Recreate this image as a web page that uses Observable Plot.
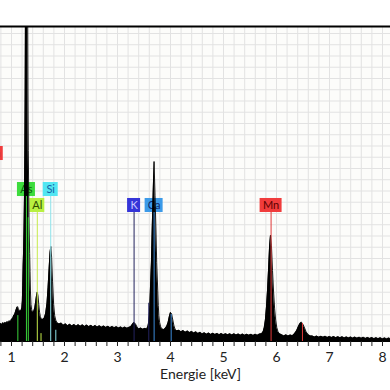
<!DOCTYPE html>
<html>
<head>
<meta charset="utf-8">
<script src="https://cdn.jsdelivr.net/npm/d3@7"></script>
<script src="https://cdn.jsdelivr.net/npm/@observablehq/plot@0.6"></script>
<style>
  html, body { margin: 0; padding: 0; background: #ffffff; }
  #chart { width: 390px; height: 390px; overflow: hidden; }
</style>
</head>
<body>
<div id="chart"></div>
<script>
// EDX spectrum: [energy keV, counts (arbitrary units)]
const spectrum = [
  [0.78,1.45],[0.80,1.62],[0.82,1.48],[0.84,1.68],[0.86,1.52],[0.88,1.72],[0.90,1.58],[0.92,1.78],
  [0.94,1.64],[0.96,1.85],[0.98,1.74],[1.00,1.98],[1.02,2.02],[1.04,2.28],[1.06,2.4],[1.08,2.72],
  [1.10,3.0],[1.115,3.1],[1.13,2.92],[1.15,2.72],[1.17,2.7],[1.185,2.82],
  [1.195,3.0],[1.205,3.6],[1.212,5.0],[1.220,6.8],[1.228,8.0],[1.236,10],[1.245,13],[1.252,17],
  [1.258,22],[1.264,30],[1.285,52],[1.305,30],[1.311,22],[1.317,17],[1.325,13],[1.334,10],
  [1.343,7.8],[1.350,6.2],[1.358,4.4],[1.368,3.3],[1.38,2.85],[1.395,2.65],[1.41,2.58],[1.425,2.75],
  [1.44,3.0],[1.455,3.5],[1.47,4.0],[1.487,4.4],[1.50,4.05],[1.515,3.3],[1.53,2.6],[1.545,2.2],
  [1.56,2.05],[1.58,1.95],[1.60,2.0],
  [1.62,2.1],[1.645,2.5],[1.67,3.4],[1.69,4.8],[1.71,6.5],[1.727,7.9],[1.742,8.45],[1.757,7.5],
  [1.775,5.3],[1.795,3.3],[1.815,2.3],[1.835,1.9],[1.855,1.7],[1.875,1.62],
  [1.90,1.55],[1.94,1.64],[1.98,1.45],[2.02,1.57],[2.06,1.4],[2.10,1.54],[2.14,1.38],[2.18,1.52],
  [2.22,1.36],[2.26,1.5],[2.30,1.35],[2.34,1.48],[2.38,1.33],[2.42,1.46],[2.46,1.32],[2.50,1.44],
  [2.54,1.3],[2.58,1.42],[2.62,1.28],[2.66,1.4],[2.70,1.27],[2.74,1.38],[2.78,1.25],[2.82,1.36],
  [2.86,1.23],[2.90,1.34],[2.94,1.22],[2.98,1.32],[3.02,1.2],[3.06,1.3],[3.10,1.18],[3.14,1.28],
  [3.18,1.17],[3.22,1.26],
  [3.25,1.32],[3.28,1.52],[3.31,1.7],[3.34,1.55],[3.37,1.28],[3.40,1.12],[3.44,1.2],[3.48,1.08],
  [3.52,1.18],[3.55,1.1],
  [3.575,1.35],[3.59,1.75],[3.60,2.3],[3.61,3.2],[3.62,4.5],[3.64,7],[3.655,10],[3.672,13],
  [3.69,16.0],[3.708,13],[3.725,10],[3.74,7],[3.76,4.5],[3.77,3.2],[3.78,2.3],[3.795,1.7],
  [3.815,1.3],[3.84,1.12],[3.87,1.05],[3.90,1.15],
  [3.93,1.35],[3.955,1.7],[3.98,2.25],[4.00,2.58],[4.02,2.48],[4.04,2.0],[4.065,1.4],[4.09,1.05],
  [4.12,0.95],
  [4.16,1.0],[4.20,0.86],[4.24,0.97],[4.28,0.82],[4.32,0.94],[4.36,0.79],[4.40,0.9],[4.44,0.75],
  [4.48,0.86],[4.52,0.71],[4.56,0.82],[4.60,0.67],[4.64,0.78],[4.68,0.65],[4.72,0.76],[4.76,0.63],
  [4.80,0.74],[4.84,0.62],[4.88,0.72],[4.92,0.61],[4.96,0.71],[5.00,0.59],[5.04,0.7],[5.08,0.59],
  [5.12,0.69],[5.16,0.57],[5.20,0.68],[5.24,0.57],[5.28,0.67],[5.32,0.56],[5.36,0.66],[5.40,0.55],
  [5.44,0.65],[5.48,0.55],[5.52,0.65],[5.56,0.54],[5.60,0.64],[5.64,0.55],[5.68,0.66],[5.72,0.7],
  [5.75,0.9],[5.77,1.25],[5.79,1.9],[5.81,3.0],[5.83,4.5],[5.85,6.4],[5.87,8.5],[5.887,9.45],
  [5.905,8.5],[5.925,6.3],[5.945,4.4],[5.965,2.9],[5.985,1.9],[6.005,1.25],[6.03,0.85],[6.06,0.68],
  [6.10,0.6],[6.14,0.49],[6.18,0.59],[6.22,0.48],[6.26,0.58],[6.30,0.52],
  [6.34,0.7],[6.38,0.95],[6.41,1.3],[6.44,1.58],[6.47,1.72],[6.50,1.52],[6.53,1.2],[6.56,0.85],
  [6.60,0.6],[6.64,0.5],
  [6.68,0.48],[6.72,0.39],[6.76,0.48],[6.80,0.38],[6.84,0.47],[6.88,0.37],[6.92,0.46],[6.96,0.36],
  [7.00,0.45],[7.04,0.35],[7.08,0.44],[7.12,0.34],[7.16,0.43],[7.20,0.33],[7.24,0.42],[7.28,0.32],
  [7.32,0.41],[7.36,0.31],[7.40,0.4],[7.44,0.3],[7.48,0.39],[7.52,0.29],[7.56,0.38],[7.60,0.28],
  [7.64,0.37],[7.68,0.27],[7.72,0.36],[7.76,0.26],[7.80,0.35],[7.84,0.25],[7.88,0.34],[7.92,0.24],
  [7.96,0.33],[8.00,0.23],[8.04,0.32],[8.08,0.22],[8.12,0.31],[8.16,0.21]
];

// Element markers (main lines with label boxes)
const elements = ["Mn", "As", "Si", "Al", "K", "Ca", "Mn"];
const elementEnergy = [0.637, 1.282, 1.740, 1.487, 3.313, 3.691, 5.898];
const elementRow = [0, 1, 1, 2, 2, 2, 2];

// Secondary lines: element, energy, relative height
const minorElement = ["As", "As", "Al", "Si", "K", "Ca", "Mn"];
const minorEnergy = [1.120, 1.317, 1.557, 1.836, 3.590, 4.013, 6.490];
const minorHeight = [2.3, 11, 0.7, 1.0, 3.4, 2.4, 1.6];

const majorTicks = [1, 2, 3, 4, 5, 6, 7, 8];

// ---- styles / layout ----
const boxFill = {As: "#3ddc3d", Si: "#52e6f2", Al: "#b8f040", K: "#3535d8", Ca: "#3c9ae8", Mn: "#f03c3c"};
const boxText = {As: "#0d5a0d", Si: "#1560a8", Al: "#2e4a00", K: "#c8c8ff", Ca: "#0c2a70", Mn: "#5a0000"};
const lineColor = {As: "#3ad33a", Si: "#8fe3ea", Al: "#c6ea4a", K: "#23235e", Ca: "#3c8bd9", Mn: "#e03a3a"};
const boxWidth = {As: 18, Si: 15, Al: 15, K: 13, Ca: 18, Mn: 22};
const rowLevel = [16.71, 13.51, 12.09];
const boxHalf = 7;          // px
const unitPx = 11.25;       // px per y unit

const labels = elements.map((el, i) => ({el, e: elementEnergy[i], lvl: rowLevel[elementRow[i]]}));
const minors = minorElement.map((el, i) => ({el, e: minorEnergy[i], h: minorHeight[i]}));
const pts = spectrum.map(([e, c]) => ({e, c}));

const boxMarks = labels.map(d => Plot.rect([d], {
  x1: "e", x2: "e", y1: "lvl", y2: "lvl",
  insetLeft: -boxWidth[d.el] / 2, insetRight: -boxWidth[d.el] / 2,
  insetTop: -boxHalf, insetBottom: -boxHalf,
  fill: boxFill[d.el]
}));

const chart = Plot.plot({
  width: 390,
  height: 390,
  marginTop: 26,
  marginBottom: 49,
  marginLeft: 0,
  marginRight: 0,
  style: {fontFamily: "Lato, 'Open Sans', sans-serif", background: "#ffffff", overflow: "hidden"},
  x: {domain: [0.7925, 8.151], label: null},
  y: {domain: [0, 28], axis: null},
  marks: [
    Plot.frame({fill: "#fcfcfa", stroke: null}),
    Plot.gridX(d3.range(0.8, 8.2, 0.2), {stroke: "#e2e2e2", strokeOpacity: 1}),
    Plot.gridY(d3.range(0.38, 28, 1), {stroke: "#e2e2e2", strokeOpacity: 1}),
    ...boxMarks,
    Plot.text(labels, {x: "e", y: "lvl", text: "el", fill: d => boxText[d.el], fontSize: 11}),
    Plot.areaY(pts, {x: "e", y: "c", fill: "black", clip: true}),
    Plot.lineY(pts, {x: "e", y: "c", stroke: "black", strokeWidth: 0.9, clip: true}),
    Plot.ruleX(labels, {x: "e", y1: 0, y2: d => d.lvl - boxHalf / unitPx, stroke: d => lineColor[d.el], strokeWidth: 1}),
    Plot.ruleX(minors, {x: "e", y1: 0, y2: "h", stroke: d => lineColor[d.el], strokeWidth: 1}),
    Plot.ruleY([0], {stroke: "black", strokeWidth: 1}),
    Plot.ruleY([28], {stroke: "black", strokeWidth: 2}),
    Plot.axisX(d3.range(0.8, 8.2, 0.2), {tickSize: 5, tickFormat: () => "", stroke: "#222", label: null}),
    Plot.axisX(majorTicks, {tickSize: 0, tickPadding: 11, fontSize: 14, fill: "#222", label: null}),
    Plot.text(["Energie [keV]"], {frameAnchor: "bottom", dy: 37, dx: 5, fontSize: 14, fill: "#222"})
  ]
});
document.getElementById("chart").appendChild(chart);
</script>
</body>
</html>
